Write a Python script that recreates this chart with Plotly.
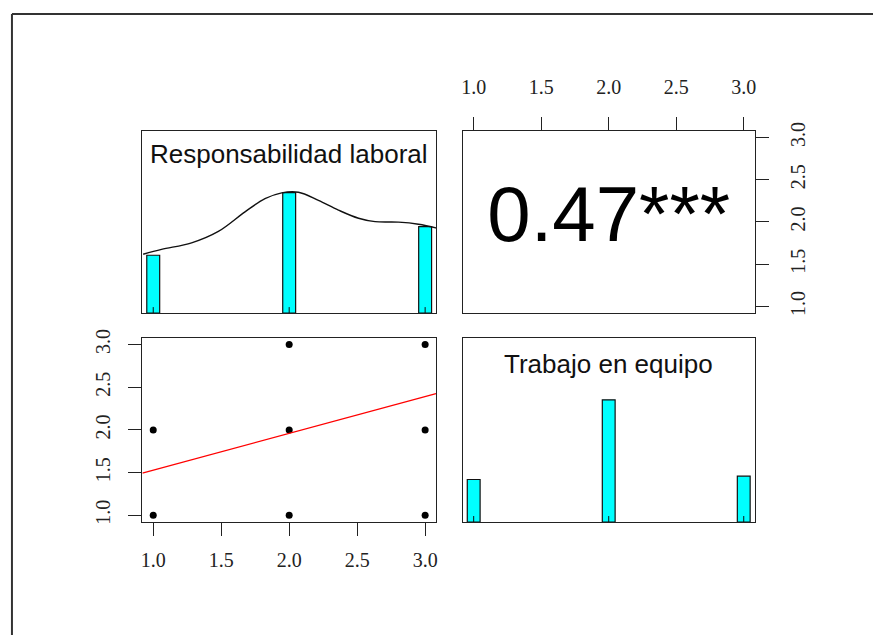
import plotly.graph_objects as go

# ---------------- data ----------------
values = [1.0, 2.0, 3.0]
resp_hist = [0.476, 0.99, 0.712]
trab_hist = [0.347, 0.995, 0.374]
resp_density_x = [0.926, 1.061, 1.282, 1.479, 1.675, 1.822, 1.945, 2.068, 2.215, 2.362, 2.510, 2.632, 2.804, 2.951, 3.086]
resp_density_y = [0.484, 0.524, 0.578, 0.672, 0.833, 0.941, 0.989, 0.994, 0.927, 0.847, 0.780, 0.752, 0.748, 0.731, 0.699]
scatter_x = [1, 1, 2, 2, 2, 3, 3, 3]
scatter_y = [1, 2, 1, 2, 3, 1, 2, 3]
fit_intercept = 1.10
fit_slope = 0.43
corr_label = "0.47***"
var_names = ["Responsabilidad laboral", "Trabajo en equipo"]
tick_vals = [1.0, 1.5, 2.0, 2.5, 3.0]
tick_text = ["1.0", "1.5", "2.0", "2.5", "3.0"]
axis_range = [0.92, 3.08]
hist_range = [0, 1.5]
rug_len = 0.05
bar_width = 0.095

W, H = 875, 638

def px_x(a, b):
    return [a / W, b / W]

def px_y(top, bottom):
    return [1 - bottom / H, 1 - top / H]

col1 = px_x(141, 436)
col2 = px_x(463, 756)
row1 = px_y(124, 310)
row2 = px_y(335, 523)

fig = go.Figure()

def rug_xy(vals):
    xs, ys = [], []
    for v in vals:
        xs += [v, v, None]
        ys += [0, rug_len, None]
    return xs, ys

# Top-left: histogram of Responsabilidad laboral
fig.add_trace(go.Bar(x=values, y=resp_hist, width=bar_width, xaxis="x", yaxis="y",
                     marker=dict(color="#00FFFF", line=dict(color="#111", width=1.2)),
                     showlegend=False, hoverinfo="skip"))
rx, ry = rug_xy(values)
fig.add_trace(go.Scatter(x=rx, y=ry, mode="lines", xaxis="x", yaxis="y",
                         line=dict(color="#111", width=1), showlegend=False, hoverinfo="skip"))
fig.add_trace(go.Scatter(x=resp_density_x, y=resp_density_y, mode="lines", xaxis="x", yaxis="y",
                         line=dict(color="#111", width=1.4, shape="spline"), showlegend=False, hoverinfo="skip"))

# Top-right: correlation text
fig.add_trace(go.Scatter(x=[2.0], y=[2.0], mode="text", text=[corr_label], xaxis="x2", yaxis="y2",
                         textposition="middle center",
                         textfont=dict(family="Liberation Sans, Arial", size=78, color="#000"),
                         showlegend=False, hoverinfo="skip"))

# Bottom-left: scatter + fit
fig.add_trace(go.Scatter(x=scatter_x, y=scatter_y, mode="markers", xaxis="x3", yaxis="y3",
                         marker=dict(color="#000", size=7), showlegend=False, hoverinfo="skip"))
fit_x = axis_range
fit_y = [fit_intercept + fit_slope * v for v in fit_x]
fig.add_trace(go.Scatter(x=fit_x, y=fit_y, mode="lines", xaxis="x3", yaxis="y3",
                         line=dict(color="#FF0000", width=1.3), showlegend=False, hoverinfo="skip"))

# Bottom-right: histogram of Trabajo en equipo
fig.add_trace(go.Bar(x=values, y=trab_hist, width=bar_width, xaxis="x4", yaxis="y4",
                     marker=dict(color="#00FFFF", line=dict(color="#111", width=1.2)),
                     showlegend=False, hoverinfo="skip"))
fig.add_trace(go.Scatter(x=rx, y=ry, mode="lines", xaxis="x4", yaxis="y4",
                         line=dict(color="#111", width=1), showlegend=False, hoverinfo="skip"))

tick_font = dict(family="Liberation Serif, Times New Roman", size=20, color="#222")
box = dict(showline=True, mirror=True, linecolor="#222", linewidth=1.2,
           showgrid=False, zeroline=False, fixedrange=True)

def hidden_axis(domain, rng, anchor):
    d = dict(box)
    d.update(domain=domain, range=rng, anchor=anchor, showticklabels=False, ticks="")
    return d

def tick_axis(domain, anchor, side, angle=0, standoff=10):
    d = dict(box)
    d.update(domain=domain, range=axis_range, anchor=anchor, side=side,
             ticks="outside", ticklen=13, tickwidth=1.2, tickcolor="#222",
             tickvals=tick_vals, ticktext=tick_text, tickfont=tick_font,
             tickangle=angle, ticklabelstandoff=standoff)
    return d

fig.update_layout(
    width=W, height=H, autosize=False,
    margin=dict(l=0, r=0, t=0, b=0),
    paper_bgcolor="white", plot_bgcolor="white",
    barmode="overlay",
    xaxis=hidden_axis(col1, axis_range, "y"),
    yaxis=hidden_axis(row1, hist_range, "x"),
    xaxis2=tick_axis(col2, "y2", "top", 0, 15),
    yaxis2=tick_axis(row1, "x2", "right", -90, 12),
    xaxis3=tick_axis(col1, "y3", "bottom", 0, 7),
    yaxis3=tick_axis(row2, "x3", "left", -90, 10),
    xaxis4=hidden_axis(col2, axis_range, "y4"),
    yaxis4=hidden_axis(row2, hist_range, "x4"),
)

label_font = dict(family="Liberation Sans, Arial", size=26, color="#111")
fig.add_annotation(x=2.0, y=1.31, xref="x", yref="y", text=var_names[0], showarrow=False,
                   font=label_font, xanchor="center", yanchor="middle")
fig.add_annotation(x=2.0, y=1.285, xref="x4", yref="y4", text=var_names[1], showarrow=False,
                   font=label_font, xanchor="center", yanchor="middle")

# outer frame (top and left edges of the captured image)
fig.add_shape(type="line", xref="paper", yref="paper", x0=10 / W, x1=1, y0=1 - 5 / H, y1=1 - 5 / H,
              line=dict(color="#333", width=2))
fig.add_shape(type="line", xref="paper", yref="paper", x0=10 / W, x1=10 / W, y0=0, y1=1 - 5 / H,
              line=dict(color="#333", width=2))

fig.write_html("out.html", config={"displayModeBar": False},
               post_script="document.body.style.margin='0';document.body.style.overflow='hidden';")
